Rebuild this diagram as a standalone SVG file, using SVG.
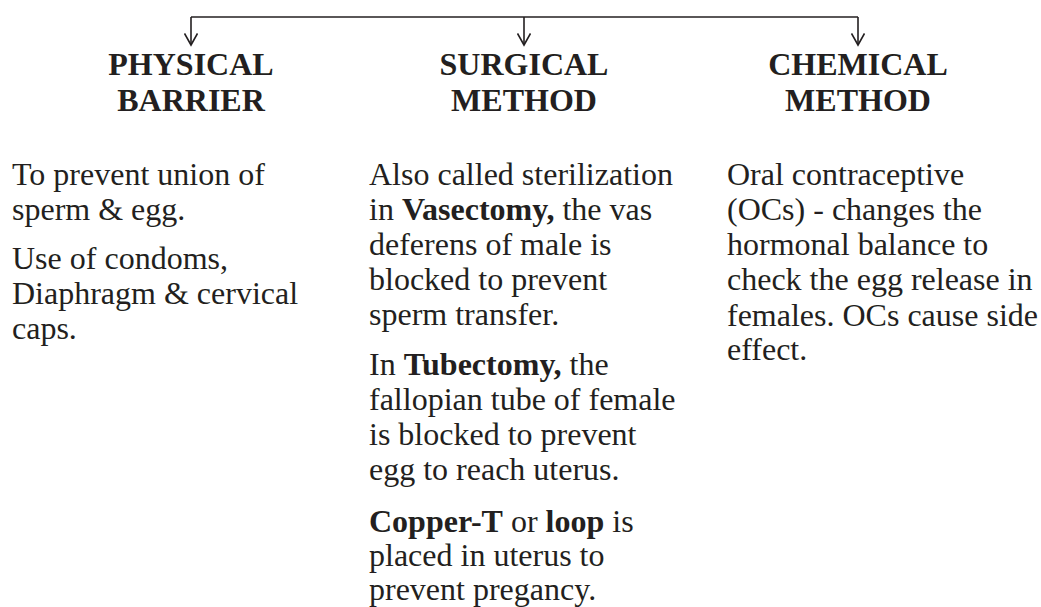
<svg xmlns="http://www.w3.org/2000/svg" width="1041" height="607" viewBox="0 0 1041 607">
<style>
.conn{fill:none;stroke:#231f20;stroke-width:1.6}
.hd{font-family:"Liberation Serif","Times New Roman",serif;font-weight:bold;font-size:32px;fill:#231f20;text-anchor:middle}
.bd{font-family:"Liberation Serif","Times New Roman",serif;font-size:32px;fill:#231f20}
.b{font-weight:bold}
</style>
<defs>
<marker id="arr" markerWidth="14" markerHeight="14" refX="7" refY="12" orient="0" markerUnits="userSpaceOnUse">
<path d="M0.5,0.5 L7,12 L13.5,0.5" fill="none" stroke="#231f20" stroke-width="1.6"/>
</marker>
</defs>
<rect width="1041" height="607" fill="#ffffff"/>
<g id="connectors">
<path class="conn" d="M191,17 H858"/>
<path class="conn" d="M191,17 V45" marker-end="url(#arr)"/>
<path class="conn" d="M524,17 V45" marker-end="url(#arr)"/>
<path class="conn" d="M858,17 V45" marker-end="url(#arr)"/>
</g>
<g id="physical">
<text class="hd" x="191" y="75">PHYSICAL</text>
<text class="hd" x="191" y="111">BARRIER</text>
<text class="bd" x="12" y="185">To prevent union of</text>
<text class="bd" x="12" y="220">sperm &amp; egg.</text>
<text class="bd" x="12" y="269">Use of condoms,</text>
<text class="bd" x="12" y="304">Diaphragm &amp; cervical</text>
<text class="bd" x="12" y="339">caps.</text>
</g>
<g id="surgical">
<text class="hd" x="524" y="75">SURGICAL</text>
<text class="hd" x="524" y="111">METHOD</text>
<text class="bd" x="369" y="185">Also called sterilization</text>
<text class="bd" x="369" y="220">in <tspan class="b">Vasectomy,</tspan> the vas</text>
<text class="bd" x="369" y="255">deferens of male is</text>
<text class="bd" x="369" y="290">blocked to prevent</text>
<text class="bd" x="369" y="325">sperm transfer.</text>
<text class="bd" x="369" y="375">In <tspan class="b">Tubectomy,</tspan> the</text>
<text class="bd" x="369" y="410">fallopian tube of female</text>
<text class="bd" x="369" y="445">is blocked to prevent</text>
<text class="bd" x="369" y="480">egg to reach uterus.</text>
<text class="bd" x="369" y="532"><tspan class="b">Copper-T</tspan> or <tspan class="b">loop</tspan> is</text>
<text class="bd" x="369" y="566">placed in uterus to</text>
<text class="bd" x="369" y="600">prevent pregancy.</text>
</g>
<g id="chemical">
<text class="hd" x="858" y="75">CHEMICAL</text>
<text class="hd" x="858" y="111">METHOD</text>
<text class="bd" x="727" y="185">Oral contraceptive</text>
<text class="bd" x="727" y="220">(OCs) - changes the</text>
<text class="bd" x="727" y="255">hormonal balance to</text>
<text class="bd" x="727" y="290">check the egg release in</text>
<text class="bd" x="727" y="326">females. OCs cause side</text>
<text class="bd" x="727" y="360">effect.</text>
</g>
</svg>
